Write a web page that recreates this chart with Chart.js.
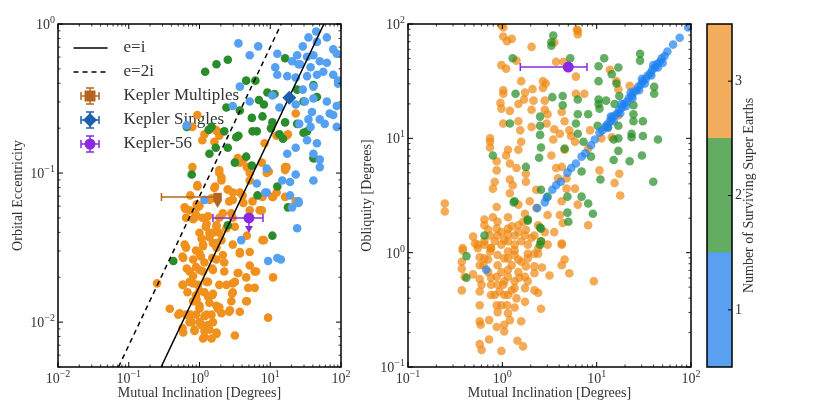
<!DOCTYPE html>
<html>
<head>
<meta charset="utf-8">
<script src="https://cdn.jsdelivr.net/npm/chart.js@4.4.0/dist/chart.umd.min.js"></script>
<style>
  body { margin: 0; background: #fff; width: 831px; height: 417px; position: relative; overflow: hidden; }
  canvas { position: absolute; top: 0; }
  #ecc { left: 0; }
  #obl { left: 355px; }
  #cbar { left: 700px; }
</style>
</head>
<body>
<canvas id="ecc" width="355" height="417"></canvas>
<canvas id="obl" width="345" height="417"></canvas>
<canvas id="cbar" width="131" height="417"></canvas>
<script>
// values are log10 pairs [log10(inclination), log10(y)]
// left panel: mutual inclination vs orbital eccentricity
const eccN1 = [[1.65,-0.05],[1.54,-0.09],[1.66,-0.12],[1.80,-0.09],[1.89,-0.17],[0.55,-0.13],[0.83,-0.15],[0.71,-0.21],
  [1.46,-0.15],[1.38,-0.21],[1.52,-0.22],[1.61,-0.21],[1.70,-0.25],[1.31,-0.25],[1.40,-0.27],[1.57,-0.29],[1.80,-0.26],
  [1.94,-0.20],[1.07,-0.29],[1.10,-0.34],[1.24,-0.35],[1.36,-0.36],[1.52,-0.35],[1.66,-0.34],[1.75,-0.32],[1.89,-0.34],
  [1.96,-0.40],[0.57,-0.42],[0.71,-0.52],[1.03,-0.48],[1.13,-0.56],[1.36,-0.54],[1.49,-0.52],[1.61,-0.50],[1.80,-0.52],
  [1.94,-0.55],[0.47,-0.55],[1.59,-0.59],[1.70,-0.64],[1.84,-0.60],[1.54,-0.64],[1.41,-0.67],[1.77,-0.67],[1.94,-0.69],
  [-0.18,-0.68],[1.61,-0.42],[1.46,-0.44],[1.96,-0.38],[1.89,-0.61],[1.10,-0.20],[1.42,-0.27],[1.57,-0.69],
  [1.52,-0.78],[1.66,-0.80],[1.36,-0.83],[1.24,-0.87],[1.61,-0.87],[1.70,-0.91],[1.70,-0.96],[0.95,-0.97],[1.36,-1.01],
  [1.17,-1.05],[1.28,-1.06],[1.61,-1.05],[0.81,-1.07],[0.95,-1.13],[1.28,-1.15],[1.40,-1.19],[0.07,-1.18],[1.31,-1.23],
  [1.38,-1.37],[0.59,-1.45],[0.97,-1.59],[1.15,-1.58],[1.40,-1.20],[0.93,-1.13],[1.10,-1.57]];
const eccN2 = [[1.21,-0.23],[0.40,-0.24],[0.24,-0.27],[0.08,-0.32],[0.66,-0.38],[0.79,-0.38],[0.96,-0.46],[1.06,-0.47],
  [0.84,-0.51],[0.91,-0.54],[1.38,-0.44],[1.61,-0.41],[1.66,-0.49],[1.47,-0.52],[0.57,-0.58],[0.38,-0.56],[0.74,-0.63],
  [0.89,-0.62],[1.03,-0.66],[1.21,-0.66],[1.38,-0.67],[1.52,-0.72],[1.13,-0.74],[0.81,-0.72],[0.35,-0.72],[0.17,-0.69],
  [1.01,-0.70],[-0.18,-0.69],[0.13,-0.71],[0.55,-0.75],[0.75,-0.72],[1.47,-0.73],[1.61,-0.90],[0.14,-0.87],[0.40,-0.83],
  [0.66,-0.89],[-0.11,-1.01],[1.18,-0.77],[0.23,-0.83],[0.52,-0.76],[0.50,-0.93],[0.74,-0.95],[1.10,-1.09],[0.82,-1.15],
  [1.62,-0.90],[1.25,-1.23],[0.40,-1.35],[1.03,-1.42],[-0.37,-1.59]];
const eccN3 = [[-0.03,-0.61],[0.23,-0.71],[1.36,-0.60],[1.25,-0.74],[0.07,-0.74],[-0.10,-0.69],[0.04,-0.78],[0.25,-0.72],
  [0.28,-0.75],[0.54,-0.90],[0.57,-0.93],[0.67,-0.96],[0.92,-0.80],[1.09,-0.75],[1.23,-0.75],[-0.10,-0.96],[0.28,-1.00],
  [0.71,-1.00],[0.95,-1.00],[1.21,-0.96],[0.31,-1.05],[0.71,-1.05],[-0.03,-1.09],[-0.13,-1.15],[-0.04,-1.21],[0.14,-1.18],
  [0.47,-1.13],[0.75,-1.19],[0.89,-1.16],[1.09,-1.13],[1.36,-1.19],[0.21,-0.79],[0.28,-0.98],[0.31,-1.03],[0.62,-0.91],
  [0.88,-0.93],[0.98,-0.99],[1.23,-0.96],[-0.03,-1.08],[0.22,-1.09],[0.40,-1.11],[0.57,-1.13],[0.47,-1.18],[0.62,-1.20],
  [0.88,-1.25],[0.71,-1.25],[1.04,-1.16],[1.21,-1.16],[-0.21,-1.23],[-0.14,-1.25],[-0.03,-1.23],[0.04,-1.30],[-0.07,-1.30],
  [0.10,-1.34],[0.24,-1.35],[0.33,-1.27],[0.47,-1.30],[0.28,-1.40],[0.14,-1.40],[0.03,-1.44],[0.19,-1.47],[0.31,-1.45],
  [0.67,-1.42],[0.91,-1.45],[-0.21,-1.48],[1.21,-0.98],[-0.09,-1.31],[0.00,-1.40],[0.19,-1.40],[0.50,-1.36],[0.05,-1.48],
  [0.24,-1.47],[0.47,-1.48],[0.57,-1.54],[0.00,-1.54],[-0.23,-1.57],[-0.09,-1.58],[0.07,-1.60],[0.24,-1.58],[-0.18,-1.64],
  [0.00,-1.65],[0.19,-1.65],[0.35,-1.66],[0.55,-1.67],[0.66,-1.70],[0.78,-1.66],[1.04,-1.70],[-0.23,-1.75],[-0.09,-1.74],
  [0.10,-1.73],[0.28,-1.75],[0.47,-1.74],[0.69,-1.77],[0.78,-1.77],[0.46,-1.81],[0.67,-1.86],[0.28,-1.90],[0.43,-1.92],
  [-0.42,-1.91],[-0.30,-1.95],[-0.13,-1.95],[0.00,-1.91],[0.10,-1.95],[0.19,-2.00],[-0.11,-2.00],[0.03,-2.02],[0.14,-2.05],
  [-0.23,-2.07],[-0.07,-2.05],[0.07,-2.10],[0.24,-2.08],[0.50,-2.09],[0.97,-1.97],[-0.60,-1.74],[0.00,-1.79],[0.12,-1.83],
  [-0.04,-1.85],[0.19,-1.81],[-0.09,-1.69],[0.57,-1.53],[0.24,-1.89],[0.31,-1.94],
  [-0.20,-1.24],[0.00,-1.22],[0.17,-1.17],[0.21,-1.10],[0.40,-1.11],[0.42,-1.19],[0.61,-1.15],[0.85,-1.25],[1.03,-1.16],
  [0.09,-1.36],[0.24,-1.36],[0.38,-1.37],[0.14,-1.43],[0.05,-1.49],[0.24,-1.50],[-0.24,-1.56],[0.02,-1.56],[0.18,-1.57],
  [0.71,-1.62],[-0.05,-1.63],[-0.14,-1.66],[0.05,-1.66],[0.18,-1.64],[-0.24,-1.75],[-0.14,-1.73],[-0.02,-1.75],[0.12,-1.73],
  [0.38,-1.75],[0.50,-1.73],[0.54,-1.67],[0.80,-1.66],[0.47,-1.80],[-0.17,-1.80],[-0.05,-1.82],[0.07,-1.80],[0.18,-1.82],
  [-0.09,-1.86],[0.00,-1.89],[0.14,-1.87],[0.26,-1.91],[0.42,-1.93],[-0.28,-1.94],[-0.19,-1.95],[-0.05,-1.95],[0.07,-1.96],
  [0.17,-1.95],[-0.14,-2.00],[0.00,-2.00],[0.12,-2.02],[-0.24,-2.04],[-0.07,-2.06],[0.07,-2.06],[0.24,-2.07],[0.05,-2.11],
  [0.17,-2.11],[0.57,-1.93],[0.45,-1.86],[0.66,-1.86],[-0.19,-1.50],[-0.05,-1.52],[0.71,-1.53],[0.89,-1.45],[0.33,-1.55],
  [0.35,-1.60],[0.45,-1.27],[0.28,-1.30],[0.12,-1.29],[-0.05,-1.28],[-0.19,-1.30]];

// right panel: mutual inclination vs obliquity
const oblN1 = [[-0.17,-0.15],[0.37,0.39],[0.45,0.44],[0.47,0.48],[0.53,0.55],[0.57,0.59],[0.62,0.62],[0.69,0.70],
  [0.73,0.74],[0.78,0.78],[0.84,0.84],[0.88,0.87],[0.94,0.94],[0.98,0.99],[1.03,1.05],[1.06,1.07],[1.09,1.10],[1.11,1.12],
  [1.14,1.15],[1.16,1.18],[1.19,1.20],[1.22,1.22],[1.24,1.25],[1.27,1.27],[1.29,1.30],[1.32,1.32],[1.34,1.35],[1.37,1.37],
  [1.39,1.40],[1.42,1.42],[1.44,1.45],[1.47,1.47],[1.49,1.50],[1.52,1.52],[1.54,1.55],[1.57,1.57],[1.59,1.60],[1.62,1.62],
  [1.64,1.65],[1.67,1.67],[1.69,1.70],[1.72,1.72],[1.75,1.76],[1.81,1.82],[1.88,1.88],[1.97,1.97],[1.12,1.09],[1.18,1.15],
  [1.25,1.22],[1.31,1.28],[1.38,1.35],[1.45,1.42],[1.51,1.48],[1.58,1.55],[1.65,1.62],[1.70,1.66],[1.15,1.19],[1.26,1.30],
  [1.36,1.40],[1.48,1.52],[1.60,1.64]];
const oblN2 = [[0.54,1.90],[0.52,1.84],[0.52,1.81],[0.11,1.70],[0.72,1.70],[1.08,1.70],[1.02,1.63],[1.23,1.62],[1.16,1.56],
  [1.02,1.50],[1.21,1.48],[1.46,1.74],[1.46,1.68],[1.61,1.45],[1.61,1.39],[0.14,1.39],[0.53,1.36],[0.64,1.37],[0.64,1.29],
  [0.80,1.34],[1.02,1.34],[1.02,1.30],[1.10,1.33],[1.19,1.30],[1.24,1.37],[1.39,1.29],[1.39,1.21],[1.49,1.15],[1.39,1.15],
  [0.40,1.19],[0.08,1.13],[0.40,1.11],[0.40,1.03],[0.80,1.21],[0.91,1.21],[1.03,1.26],[0.78,1.13],[1.01,1.11],[1.12,1.10],
  [1.23,1.11],[1.37,1.04],[1.49,1.02],[0.80,1.04],[0.41,0.92],[0.39,0.83],[-0.10,0.85],[0.25,0.75],[0.66,0.91],[0.86,0.97],
  [0.94,0.84],[1.23,1.00],[1.23,0.89],[1.18,0.81],[1.37,1.01],[1.48,0.85],[1.65,0.99],[1.60,0.62],[1.35,0.80],[1.04,0.64],
  [0.84,0.71],[0.41,0.55],[0.48,0.49],[0.69,0.49],[0.84,0.49],[0.91,0.43],[0.13,0.45],[0.27,0.29],[0.41,0.21],[0.41,0.10],
  [0.69,0.35],[0.96,0.34],[0.70,0.27],[-0.19,0.15],[1.18,0.99],[-0.38,-0.03],[-0.38,-0.22],[0.40,0.07],[0.40,0.22],
  [0.27,0.28],[0.12,0.44]];
const oblN3 = [[-0.01,1.99],[0.01,1.89],[0.05,1.85],[0.10,1.87],[0.31,1.80],[0.80,1.94],[0.80,1.91],[0.55,1.84],[-0.01,1.64],
  [0.04,1.61],[0.15,1.68],[0.57,1.67],[0.65,1.67],[0.78,1.54],[1.14,1.60],[0.20,1.50],[0.01,1.42],[0.01,1.39],[0.24,1.40],
  [0.23,1.34],[0.32,1.43],[0.43,1.50],[0.43,1.44],[0.46,1.48],[-0.02,1.31],[-0.01,1.26],[0.08,1.24],[0.17,1.30],[0.33,1.33],
  [0.31,1.25],[0.45,1.33],[0.45,1.25],[0.48,1.21],[0.63,1.23],[0.87,1.39],[0.78,1.39],[1.21,1.50],[1.23,1.43],[1.35,1.46],
  [0.01,1.13],[0.17,1.15],[0.19,1.07],[0.31,1.10],[0.47,1.13],[0.55,1.08],[0.66,1.15],[0.71,1.07],[0.61,1.04],[0.73,1.02],
  [1.16,1.16],[1.23,1.20],[1.16,1.01],[-0.13,1.00],[0.93,1.07],[-0.13,0.97],[-0.13,0.92],[0.06,0.90],[0.04,0.85],[0.17,0.90],
  [0.20,0.97],[-0.06,0.80],[-0.06,0.72],[0.08,0.78],[0.15,0.74],[0.25,0.69],[-0.08,0.62],[-0.10,0.56],[0.08,0.64],[0.11,0.59],
  [0.08,0.52],[0.25,0.62],[0.36,0.55],[0.54,0.99],[0.52,0.85],[0.57,0.74],[0.63,0.75],[0.66,0.90],[0.77,0.97],[0.59,0.65],
  [0.68,0.65],[0.77,0.56],[0.68,0.56],[0.91,0.91],[1.05,1.00],[1.03,0.72],[1.24,0.69],[1.19,0.61],[1.25,0.50],[0.91,0.24],
  [0.80,0.42],[0.63,0.45],[0.61,0.33],[0.64,0.26],[0.55,0.18],[0.63,0.08],[-0.61,0.43],[-0.61,0.36],[-0.19,0.29],[-0.19,0.24],
  [-0.06,0.40],[-0.10,0.31],[-0.05,0.27],[0.06,0.31],[0.17,0.42],[0.24,0.34],[0.29,0.45],[0.36,0.39],[0.22,0.27],[0.10,0.23],
  [-0.01,0.18],[0.06,0.16],[0.17,0.18],[0.25,0.20],[0.31,0.13],[0.45,0.18],[0.48,0.33],[-0.31,0.14],[-0.29,0.08],[-0.19,0.07],
  [-0.08,0.10],[0.13,0.07],[0.38,0.04],[-0.42,0.04],[0.02,0.11],[-0.42,0.02],[-0.43,-0.08],[-0.43,-0.14],[-0.40,-0.21],
  [-0.43,-0.33],[-0.31,-0.19],[-0.26,0.04],[-0.24,-0.04],[-0.24,-0.11],[-0.24,-0.23],[-0.24,-0.34],[-0.22,-0.28],[-0.24,-0.46],
  [-0.24,-0.60],[-0.23,-0.63],[-0.14,-0.59],[-0.24,-0.80],[-0.22,-0.85],[-0.14,-0.76],[-0.01,-0.86],[-0.06,-0.65],[0.02,-0.63],
  [0.02,-0.69],[0.08,-0.59],[-0.05,-0.52],[0.06,-0.53],[-0.01,-0.46],[0.05,-0.46],[0.13,-0.48],[0.24,-0.43],[0.20,-0.60],
  [0.16,-0.77],[0.22,-0.82],[0.41,-0.49],[-0.12,-0.37],[-0.12,-0.28],[-0.06,-0.21],[0.01,-0.28],[0.02,-0.37],[0.10,-0.33],
  [0.15,-0.40],[0.13,-0.25],[0.17,-0.17],[0.24,-0.21],[0.25,-0.12],[0.34,-0.12],[0.27,-0.25],[0.34,-0.33],[0.38,-0.35],
  [0.34,-0.18],[0.42,-0.13],[0.50,-0.20],[0.63,-0.11],[0.66,-0.06],[0.71,-0.18],[0.97,-0.25],[-0.15,-0.06],[-0.13,0.01],
  [-0.05,-0.11],[0.02,-0.05],[0.06,0.01],[0.13,0.02],[0.17,-0.06],[0.06,-0.15],[-0.03,-0.34],[-0.06,-0.46],[0.34,-0.01],
  [0.27,-0.01],[0.38,-0.01],[0.63,0.07],[0.01,1.97],[0.79,1.95],
  [-0.15,0.20],[-0.05,0.15],[0.06,0.10],[0.13,0.15],[0.20,0.10],[0.27,0.07],[-0.01,0.07],[-0.12,0.04],[0.06,0.21],[0.17,0.24],
  [0.24,0.15],[0.34,0.15],[0.38,0.24],[0.41,0.10],[0.48,0.07],[-0.19,0.10],[-0.26,0.07],[-0.13,0.15],[-0.06,0.21],
  [-0.12,0.04],[-0.05,-0.02],[0.06,-0.05],[0.13,-0.02],[0.20,-0.08],[0.10,-0.11],[-0.01,-0.17],[0.06,-0.21],[0.13,-0.31],
  [-0.05,-0.28],[-0.12,-0.22],[-0.15,-0.17],[-0.08,-0.37],[0.06,-0.37],[0.02,-0.25],[0.18,-0.22],[0.24,-0.31],[-0.19,-0.05],
  [-0.20,-0.11],[0.27,-0.05]];

// reference lines (inclination in degrees, eccentricity)
const eqIncl = [0.2865, 57.3];
const eqEcc = [0.005, 1];
const eq2Incl = [0.0716, 14.3];
const eq2Ecc = [0.005, 1];

// observed systems
const multIncl = 1.8, multInclLo = 0.29, multEcc = 0.069;
const singIncl = 18.6, singEcc = 0.32;
const k56Incl = 5.0, k56InclLo = 1.55, k56InclHi = 7.9, k56Ecc = 0.05, k56Obl = 42;

// colour bar
const cbLevels = [1, 2, 3];
const cbColors = ['#5aa0f0', '#62ad62', '#f2ae5c'];

Chart.defaults.font.family = "'Liberation Serif', 'DejaVu Serif', serif";
Chart.defaults.color = '#333';

const toPts = arr => arr.map(([a, b]) => ({ x: Math.pow(10, a), y: Math.pow(10, b) }));

const orangeL = 'rgb(240,145,30)', greenL = 'rgb(42,140,42)', blueL = 'rgb(85,160,240)';
const orangeR = 'rgba(238,135,15,0.7)', greenR = 'rgba(34,139,34,0.7)', blueR = 'rgba(30,130,240,0.7)';
const multColor = '#b5651d', singColor = '#1f5fae', k56Color = '#8a2be2';

// superscript power-of-ten label
function drawPow(ctx, exp, x, y, align) {
  const es = exp < 0 ? '\u2212' + (-exp) : String(exp);
  ctx.font = "14px 'Liberation Serif'";
  const w1 = ctx.measureText('10').width;
  ctx.font = "10px 'Liberation Serif'";
  const w2 = ctx.measureText(es).width;
  const x0 = align === 'center' ? x - (w1 + w2) / 2 : x - w1 - w2;
  ctx.font = "14px 'Liberation Serif'";
  ctx.fillText('10', x0, y);
  ctx.font = "10px 'Liberation Serif'";
  ctx.fillText(es, x0 + w1, y - 6);
}

// frame, inward log ticks on all sides and tick labels
const logFrame = {
  id: 'logFrame',
  afterDraw(chart) {
    const { ctx, chartArea: a, scales } = chart;
    ctx.save();
    ctx.strokeStyle = '#000';
    ctx.fillStyle = '#333';
    ctx.textAlign = 'left';
    ctx.textBaseline = 'alphabetic';
    ['x', 'y'].forEach(id => {
      const s = scales[id];
      const d0 = Math.floor(Math.log10(s.min) + 1e-9), d1 = Math.ceil(Math.log10(s.max) - 1e-9);
      for (let d = d0; d <= d1; d++) {
        for (let m = 1; m <= 9; m++) {
          const v = m * Math.pow(10, d);
          if (v < s.min * 0.999 || v > s.max * 1.001) continue;
          const len = m === 1 ? 5 : 2.5;
          const p = s.getPixelForValue(v);
          ctx.lineWidth = m === 1 ? 1 : 0.8;
          ctx.beginPath();
          if (id === 'x') {
            ctx.moveTo(p, a.bottom); ctx.lineTo(p, a.bottom - len);
            ctx.moveTo(p, a.top); ctx.lineTo(p, a.top + len);
          } else {
            ctx.moveTo(a.left, p); ctx.lineTo(a.left + len, p);
            ctx.moveTo(a.right, p); ctx.lineTo(a.right - len, p);
          }
          ctx.stroke();
          if (m === 1) {
            if (id === 'x') drawPow(ctx, d, p, a.bottom + 16, 'center');
            else drawPow(ctx, d, a.left - 3, p + 5, 'right');
          }
        }
      }
    });
    ctx.lineWidth = 1.5;
    ctx.strokeRect(a.left, a.top, a.right - a.left, a.bottom - a.top);
    ctx.restore();
  }
};

// error bars and upper-limit arrows, drawn just before their marker
const errBars = {
  id: 'errBars',
  beforeDatasetDraw(chart, args, opts) {
    const { ctx, scales: { x, y } } = chart;
    (opts.items || []).filter(it => it.ds === args.index).forEach(it => {
      const px = x.getPixelForValue(it.x), py = y.getPixelForValue(it.y);
      ctx.save();
      ctx.strokeStyle = it.color; ctx.fillStyle = it.color; ctx.lineWidth = 1.5;
      const lo = x.getPixelForValue(it.xLo), hi = x.getPixelForValue(it.xHi);
      ctx.beginPath();
      ctx.moveTo(lo, py); ctx.lineTo(hi, py);
      ctx.moveTo(lo, py - 4); ctx.lineTo(lo, py + 4);
      ctx.moveTo(hi, py - 4); ctx.lineTo(hi, py + 4);
      if (it.arrow) { ctx.moveTo(px, py); ctx.lineTo(px, py + it.arrow - 5); }
      ctx.stroke();
      if (it.arrow) {
        ctx.beginPath();
        ctx.moveTo(px - 4, py + it.arrow - 7); ctx.lineTo(px + 4, py + it.arrow - 7); ctx.lineTo(px, py + it.arrow);
        ctx.closePath(); ctx.fill();
      }
      ctx.restore();
    });
  }
};

function legendSymbol(kind, color, dash) {
  const c = document.createElement('canvas');
  c.width = 50; c.height = 26;
  const g = c.getContext('2d');
  const cx = 25, cy = 13;
  g.strokeStyle = color; g.fillStyle = color; g.lineWidth = 1.5;
  if (kind === 'line') {
    g.setLineDash(dash);
    g.beginPath(); g.moveTo(8.5, cy); g.lineTo(42.5, cy); g.stroke();
    return c;
  }
  g.beginPath();
  g.moveTo(cx - 9, cy); g.lineTo(cx + 9, cy);
  g.moveTo(cx - 9, cy - 4); g.lineTo(cx - 9, cy + 4);
  g.moveTo(cx + 9, cy - 4); g.lineTo(cx + 9, cy + 4);
  g.moveTo(cx, cy - 8); g.lineTo(cx, cy + 8);
  g.moveTo(cx - 4, cy - 8); g.lineTo(cx + 4, cy - 8);
  g.moveTo(cx - 4, cy + 8); g.lineTo(cx + 4, cy + 8);
  g.stroke();
  g.beginPath();
  if (kind === 'rect') g.rect(cx - 5.5, cy - 5.5, 11, 11);
  else if (kind === 'diamond') { g.moveTo(cx, cy - 7); g.lineTo(cx + 7, cy); g.lineTo(cx, cy + 7); g.lineTo(cx - 7, cy); g.closePath(); }
  else g.arc(cx, cy, 5.5, 0, Math.PI * 2);
  g.fill();
  return c;
}

const legendItems = [
  { text: 'e=i', pointStyle: legendSymbol('line', '#000', []) },
  { text: 'e=2i', pointStyle: legendSymbol('line', '#000', [5, 4]) },
  { text: 'Kepler Multiples', pointStyle: legendSymbol('rect', multColor) },
  { text: 'Kepler Singles', pointStyle: legendSymbol('diamond', singColor) },
  { text: 'Kepler-56', pointStyle: legendSymbol('circle', k56Color) }
];

const logAxis = (min, max, title, isX, width, titlePad) => ({
  type: 'logarithmic', min: min, max: max,
  grid: { display: false }, border: { display: false }, ticks: { display: false },
  title: { display: true, text: title, color: '#333', font: { size: 14 },
    padding: isX ? { top: 0, bottom: 15 } : { top: titlePad, bottom: 0 } },
  afterFit: s => { if (isX) s.height = 50; else s.width = width; }
});

const dot = (data, color) => ({
  type: 'scatter', data: data, backgroundColor: color, borderWidth: 0, pointRadius: 4.3, pointHoverRadius: 4.3
});

new Chart(document.getElementById('ecc'), {
  type: 'scatter',
  data: {
    datasets: [
      { data: [{ x: multIncl, y: multEcc }], backgroundColor: multColor, pointStyle: 'rect', pointRadius: 6, borderWidth: 0 },
      { data: [{ x: singIncl, y: singEcc }], backgroundColor: singColor, pointStyle: 'rectRot', pointRadius: 7, borderWidth: 0 },
      { data: [{ x: k56Incl, y: k56Ecc }], backgroundColor: k56Color, pointStyle: 'circle', pointRadius: 5.5, borderWidth: 0 },
      { data: eqIncl.map((v, i) => ({ x: v, y: eqEcc[i] })), showLine: true, borderColor: '#000', borderWidth: 1.5, pointRadius: 0 },
      { data: eq2Incl.map((v, i) => ({ x: v, y: eq2Ecc[i] })), showLine: true, borderColor: '#000', borderWidth: 1.5, borderDash: [5, 4], pointRadius: 0 },
      dot(toPts(eccN1), blueL),
      dot(toPts(eccN2), greenL),
      dot(toPts(eccN3), orangeL)
    ]
  },
  options: {
    responsive: false, animation: false, events: [],
    layout: { padding: { left: 0, top: 24, right: 14, bottom: 0 } },
    scales: {
      x: logAxis(0.01, 100, 'Mutual Inclination [Degrees]', true),
      y: logAxis(0.005, 1, 'Orbital Eccentricity', false, 58, 10)
    },
    plugins: {
      tooltip: { enabled: false },
      legend: {
        position: 'chartArea', align: 'start',
        title: { display: true, text: '', font: { size: 1 }, padding: { top: 31.3, bottom: 0 } },
        labels: {
          usePointStyle: true, pointStyleWidth: 50, padding: 7, color: '#222', font: { size: 17 },
          generateLabels: () => legendItems.map(it => ({ text: it.text, pointStyle: it.pointStyle, fillStyle: '#000', strokeStyle: '#000', lineWidth: 0, hidden: false }))
        }
      },
      errBars: {
        items: [
          { ds: 0, x: multIncl, y: multEcc, xLo: multInclLo, xHi: multIncl, arrow: 11, color: multColor },
          { ds: 2, x: k56Incl, y: k56Ecc, xLo: k56InclLo, xHi: k56InclHi, arrow: 15, color: k56Color }
        ]
      }
    }
  },
  plugins: [logFrame, errBars]
});

new Chart(document.getElementById('obl'), {
  type: 'scatter',
  data: {
    datasets: [
      { data: [{ x: k56Incl, y: k56Obl }], backgroundColor: k56Color, pointStyle: 'circle', pointRadius: 5.5, borderWidth: 0 },
      dot(toPts(oblN1), blueR),
      dot(toPts(oblN2), greenR),
      dot(toPts(oblN3), orangeR)
    ]
  },
  options: {
    responsive: false, animation: false, events: [],
    layout: { padding: { left: 0, top: 24, right: 9, bottom: 0 } },
    scales: {
      x: logAxis(0.1, 100, 'Mutual Inclination [Degrees]', true),
      y: logAxis(0.1, 100, 'Obliquity [Degrees]', false, 53, 3.6)
    },
    plugins: {
      tooltip: { enabled: false }, legend: { display: false },
      errBars: { items: [{ ds: 0, x: k56Incl, y: k56Obl, xLo: k56InclLo, xHi: k56InclHi, arrow: 0, color: k56Color }] }
    }
  },
  plugins: [logFrame, errBars]
});

const cbFrame = {
  id: 'cbFrame',
  afterDraw(chart) {
    const { ctx, chartArea: a, scales: { y } } = chart;
    ctx.save();
    ctx.strokeStyle = '#000';
    ctx.lineWidth = 1;
    cbLevels.forEach(v => {
      const p = y.getPixelForValue(v);
      ctx.beginPath(); ctx.moveTo(a.right, p); ctx.lineTo(a.right - 4, p); ctx.stroke();
    });
    ctx.lineWidth = 1.5;
    ctx.strokeRect(a.left, a.top, a.right - a.left, a.bottom - a.top);
    ctx.translate(49, (a.top + a.bottom) / 2);
    ctx.rotate(-Math.PI / 2);
    ctx.fillStyle = '#333';
    ctx.font = "14px 'Liberation Serif'";
    ctx.textAlign = 'center';
    ctx.textBaseline = 'middle';
    ctx.fillText('Number of Surviving Super Earths', 0, 0);
    ctx.restore();
  }
};

new Chart(document.getElementById('cbar'), {
  type: 'bar',
  data: {
    labels: [''],
    datasets: cbLevels.map((n, i) => ({
      data: [[n - 0.5, n + 0.5]], backgroundColor: cbColors[i], borderWidth: 0,
      barPercentage: 1, categoryPercentage: 1, grouped: false
    }))
  },
  options: {
    responsive: false, animation: false, events: [],
    layout: { padding: { left: 7, top: 24, right: 0, bottom: 50 } },
    plugins: { legend: { display: false }, tooltip: { enabled: false } },
    scales: {
      x: { display: false },
      y: {
        position: 'right', min: 0.5, max: 3.5,
        afterBuildTicks: s => { s.ticks = cbLevels.map(v => ({ value: v })); },
        afterFit: s => { s.width = 99; },
        grid: { display: false, drawTicks: false }, border: { display: false },
        ticks: { padding: 3, color: '#333', font: { size: 14 } }
      }
    }
  },
  plugins: [cbFrame]
});
</script>
</body>
</html>
